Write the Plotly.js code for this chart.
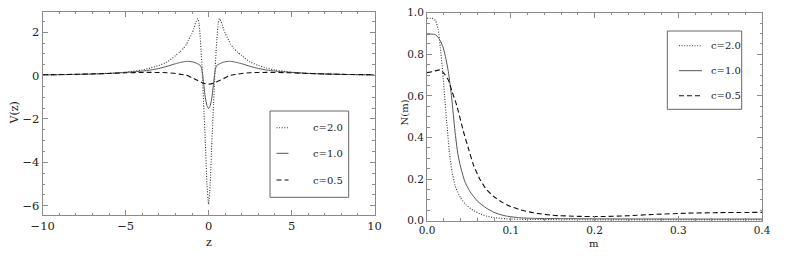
<!DOCTYPE html>
<html>
<head>
<meta charset="utf-8">
<script src="https://cdn.plot.ly/plotly-3.0.1.min.js"></script>
<style>html,body{margin:0;padding:0;background:#fff;}#chart{width:789px;height:263px;}</style>
</head>
<body>
<div id="chart"></div>
<script>
// ---- Left panel: V(z) ----
const zVals = [-10,-8,-7,-6,-5,-4,-3.5,-3,-2.5,-2,-1.75,-1.5,-1.33,-1.25,-1,-0.9,-0.75,-0.65,-0.58,-0.5,-0.45,-0.4,-0.35,-0.3,-0.2,-0.1,0,
               0.1,0.2,0.3,0.35,0.4,0.45,0.5,0.58,0.65,0.75,0.9,1,1.25,1.33,1.5,1.75,2,2.5,3,3.5,4,5,6,7,8,10];
const vC20 = [0.035,0.06,0.08,0.11,0.16,0.26,0.35,0.47,0.63,0.92,1.08,1.28,1.45,1.58,1.95,2.15,2.5,2.63,2.4,1.7,1.1,0.45,-0.4,-1.3,-3.0,-4.95,-5.93,
              -4.95,-3.0,-1.3,-0.4,0.45,1.1,1.7,2.4,2.63,2.5,2.15,1.95,1.58,1.45,1.28,1.08,0.92,0.63,0.47,0.35,0.26,0.16,0.11,0.08,0.06,0.035];
const vC10 = [0.035,0.055,0.075,0.1,0.15,0.21,0.26,0.33,0.43,0.55,0.6,0.64,0.66,0.66,0.64,0.62,0.58,0.54,0.51,0.47,0.4,0.25,0.0,-0.35,-1.0,-1.38,-1.52,
              -1.38,-1.0,-0.35,0.0,0.25,0.4,0.47,0.51,0.54,0.58,0.62,0.64,0.66,0.66,0.64,0.6,0.55,0.43,0.33,0.26,0.21,0.15,0.1,0.075,0.055,0.035];
const vC05 = [0.04,0.06,0.08,0.1,0.13,0.148,0.15,0.145,0.135,0.1,0.07,0.04,0.015,0.0,-0.1,-0.13,-0.19,-0.23,-0.25,-0.28,-0.3,-0.32,-0.34,-0.35,-0.37,-0.385,-0.39,
              -0.385,-0.37,-0.35,-0.34,-0.32,-0.3,-0.28,-0.25,-0.23,-0.19,-0.13,-0.1,0.0,0.015,0.04,0.07,0.1,0.135,0.145,0.15,0.148,0.13,0.1,0.08,0.06,0.04];

// ---- Right panel: N(m) ----
const mC20 = [0,0.006,0.01,0.0135,0.016,0.0187,0.021,0.0235,0.0275,0.03,0.0334,0.04,0.047,0.055,0.063,0.071,0.08,0.095,0.12,0.2,0.3,0.4];
const nC20 = [0.973,0.973,0.963,0.917,0.83,0.716,0.6,0.476,0.3,0.235,0.17,0.11,0.075,0.05,0.034,0.022,0.015,0.009,0.006,0.004,0.004,0.004];
const mC10 = [0,0.005,0.01,0.0135,0.0165,0.0195,0.0225,0.0255,0.0295,0.0334,0.0365,0.0394,0.045,0.0513,0.06,0.071,0.08,0.087,0.095,0.111,0.13,0.2,0.3,0.4];
const nC10 = [0.896,0.897,0.895,0.88,0.86,0.83,0.78,0.716,0.59,0.43,0.33,0.27,0.19,0.14,0.095,0.06,0.04,0.03,0.022,0.014,0.011,0.009,0.008,0.008];
const mC05 = [0,0.008,0.0155,0.02,0.0255,0.03,0.0354,0.0434,0.05,0.0553,0.063,0.071,0.08,0.09,0.1,0.111,0.127,0.15,0.18,0.21,0.24,0.27,0.31,0.35,0.4];
const nC05 = [0.712,0.718,0.725,0.71,0.676,0.62,0.556,0.43,0.34,0.27,0.2,0.15,0.115,0.088,0.068,0.053,0.038,0.026,0.021,0.02,0.024,0.03,0.036,0.039,0.04];

const legendLabels = ["c=2.0","c=1.0","c=0.5"];
const xTitleLeft = "z", yTitleLeft = "V(z)", xTitleRight = "m", yTitleRight = "N(m)";

const W = 789, H = 263;
const px = x => x / W, py = y => 1 - y / H;
const SERIF = 'DejaVu Serif';

const styles = [
  {color:'#333', width:1.1, dash:'1px,1.6px'},
  {color:'#555', width:1, dash:'solid'},
  {color:'#111', width:1.1, dash:'5px,3px'}
];

const traces = [
  {x:zVals, y:vC20, xaxis:'x', yaxis:'y'},
  {x:zVals, y:vC10, xaxis:'x', yaxis:'y'},
  {x:zVals, y:vC05, xaxis:'x', yaxis:'y'},
  {x:mC20, y:nC20, xaxis:'x2', yaxis:'y2'},
  {x:mC10, y:nC10, xaxis:'x2', yaxis:'y2'},
  {x:mC05, y:nC05, xaxis:'x2', yaxis:'y2'}
].map((t,i) => Object.assign(t, {
  type:'scatter', mode:'lines', showlegend:false, hoverinfo:'skip',
  line:Object.assign({shape:'spline', smoothing:0.5}, styles[i%3])
}));

const frame = '#8a8a8a';
const tickFontL = {family:SERIF, size:11.5, color:'#222'};
const tickFontR = {family:SERIF, size:10.5, color:'#222'};
function ax(extra, font, minorD) {
  return Object.assign({
    showline:true, linecolor:frame, linewidth:1, mirror:'allticks',
    ticks:'inside', ticklen:5, tickcolor:frame, tickwidth:1,
    showgrid:false, zeroline:false, tickfont:font,
    minor:{dtick:minorD, ticks:'inside', ticklen:2.5, tickcolor:frame, tickwidth:1, showgrid:false}
  }, extra);
}

const shapes = [];
const annotations = [];
function legendBox(bx0, by0, bx1, by1, sx0, sx1, tx, rows, fs) {
  shapes.push({type:'rect', xref:'paper', yref:'paper', x0:px(bx0), x1:px(bx1), y0:py(by1), y1:py(by0),
    line:{color:'#666', width:1}, fillcolor:'rgba(0,0,0,0)'});
  rows.forEach((ry,i) => {
    shapes.push({type:'line', xref:'paper', yref:'paper', x0:px(sx0), x1:px(sx1), y0:py(ry), y1:py(ry),
      line:{color:styles[i].color, width:styles[i].width, dash:styles[i].dash}});
    annotations.push({xref:'paper', yref:'paper', x:px(tx), y:py(ry), xanchor:'left', yanchor:'middle',
      text:legendLabels[i], showarrow:false, font:{family:SERIF, size:fs, color:'#222'}});
  });
}
legendBox(270, 111, 348.7, 197.3, 276.5, 288.5, 310.5, [127.7,153.3,180], 10);
legendBox(667.3, 31, 741.7, 109.3, 679, 702, 709, [45.7,70.7,95.7], 10);

const titleFont = {family:SERIF, size:11, color:'#222'};
annotations.push({xref:'paper', yref:'paper', x:px(13.5), y:py(113), text:yTitleLeft, textangle:-90, showarrow:false, font:titleFont, xanchor:'center', yanchor:'middle'});
annotations.push({xref:'paper', yref:'paper', x:px(208.5), y:py(242), text:xTitleLeft, showarrow:false, font:titleFont, xanchor:'center', yanchor:'middle'});
annotations.push({xref:'paper', yref:'paper', x:px(403.5), y:py(113), text:yTitleRight, textangle:-90, showarrow:false, font:{family:SERIF, size:10, color:'#222'}, xanchor:'center', yanchor:'middle'});
annotations.push({xref:'paper', yref:'paper', x:px(593.5), y:py(243), text:xTitleRight, showarrow:false, font:{family:SERIF, size:10, color:'#222'}, xanchor:'center', yanchor:'middle'});

const layout = {
  width:W, height:H, margin:{l:0,r:0,t:0,b:0},
  paper_bgcolor:'#fff', plot_bgcolor:'#fff', showlegend:false,
  font:{family:SERIF},
  xaxis: ax({domain:[px(42.7), px(374.5)], range:[-10,10], dtick:5, tick0:0, anchor:'y'}, tickFontL, 1),
  yaxis: ax({domain:[py(215), py(11.7)], range:[-6.43,2.95], dtick:2, tick0:0, anchor:'x'}, tickFontL, 0.5),
  xaxis2: ax({domain:[px(427), px(762)], range:[0,0.4], dtick:0.1, tick0:0, tickformat:'.1f', anchor:'y2'}, tickFontR, 0.02),
  yaxis2: ax({domain:[py(220.7), py(12.7)], range:[0,1], dtick:0.2, tick0:0, tickformat:'.1f', anchor:'x2'}, tickFontR, 0.05),
  shapes:shapes, annotations:annotations
};

Plotly.newPlot('chart', traces, layout, {staticPlot:true, displayModeBar:false});
</script>
</body>
</html>
